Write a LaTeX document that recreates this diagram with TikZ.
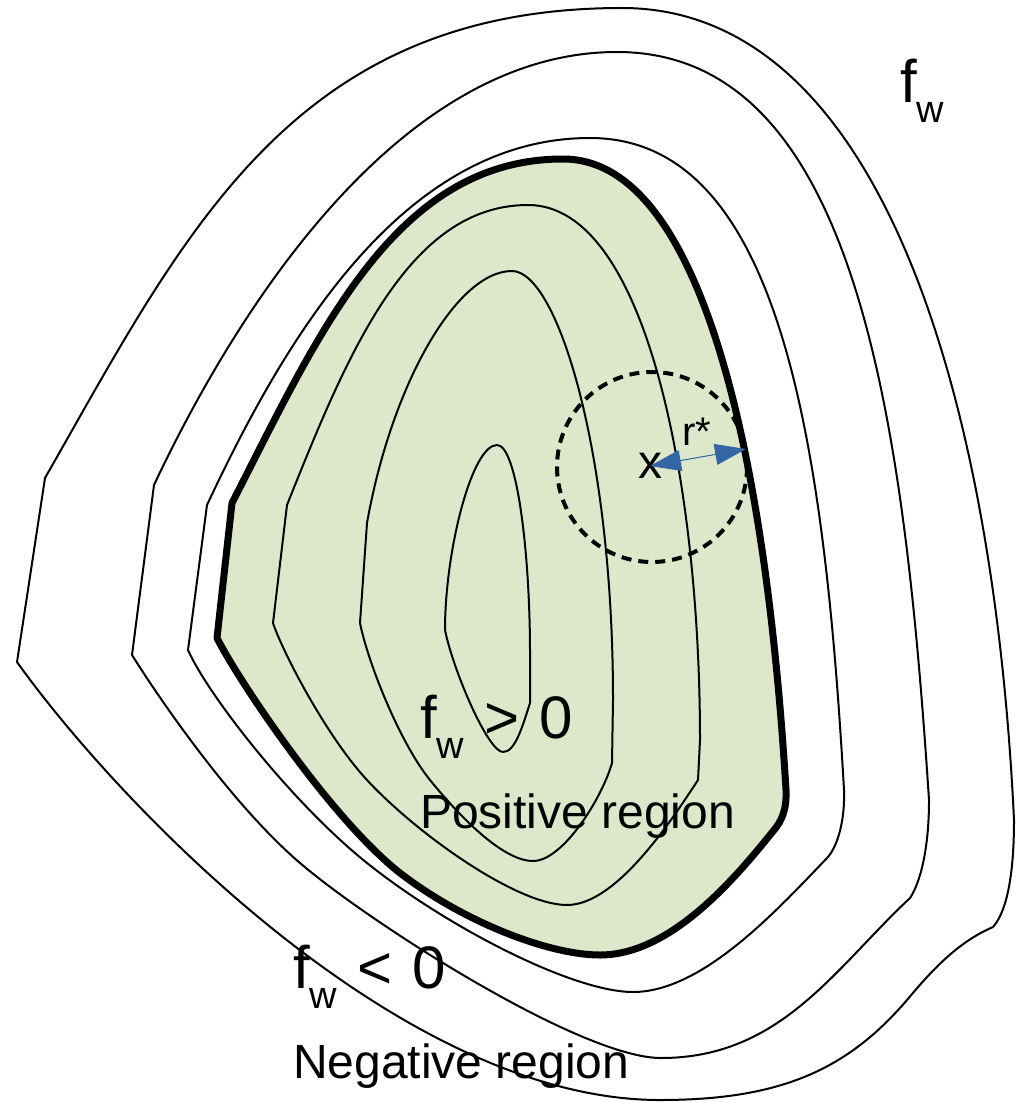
\documentclass[tikz,border=0pt]{standalone}
\usepackage{fontspec}
\setmainfont{Liberation Sans}
\usetikzlibrary{arrows.meta}
\definecolor{LevelFill}{HTML}{DDE8CB}
\definecolor{LevelArrow}{HTML}{3465A4}
\newcommand{\fwlabel}{f\raisebox{-20pt}{\fontsize{38}{40}\selectfont w}}

\begin{document}
\begin{tikzpicture}[x=1pt,y=-1pt,
    contour/.style={line width=2pt,line join=round},
    boundary/.style={line width=7pt,line join=round},
    biglabel/.style={inner sep=0pt,anchor=base west,font=\fontsize{60}{72}\selectfont},
    textlabel/.style={inner sep=0pt,anchor=base west,font=\fontsize{48}{56}\selectfont}]
  \useasboundingbox (0,0) rectangle (1016,1102);

  % outer level sets
  \draw[contour] (17,662) -- (45,478)
    .. controls +(140,-245) and +(-330,0) .. (622,8)
    .. controls +(260,0) and +(-20,-420) .. (1014,820)
    .. controls +(0,50) and +(15,-17) .. (993,927)
    .. controls +(-35,15) and +(25,-30) .. (907,1000)
    .. controls +(-60,70) and +(120,0) .. (660,1100)
    .. controls +(-260,0) and +(100,140) .. (17,662) -- cycle;
  \draw[contour] (132,655) -- (154,485)
    .. controls +(80,-170) and +(-220,0) .. (617,52)
    .. controls +(240,0) and +(-25,-380) .. (929,800)
    .. controls +(0,50) and +(10,-15) .. (910,898)
    .. controls +(-75,70) and +(120,0) .. (661,1058)
    .. controls +(-80,0) and +(70,60) .. (300,863)
    .. controls +(-70,-60) and +(25,40) .. (132,655) -- cycle;
  \draw[contour] (188,650) -- (207,505)
    .. controls +(75,-160) and +(-190,0) .. (590,138)
    .. controls +(190,0) and +(-20,-350) .. (844,790)
    .. controls +(1,30) and +(10,-12) .. (828,857)
    .. controls +(-50,52) and +(70,0) .. (633,992)
    .. controls +(-60,0) and +(80,64) .. (367,863)
    .. controls +(-75,-60) and +(20,45) .. (188,650) -- cycle;

  % zero level set
  \draw[boundary,fill=LevelFill] (217,638) -- (232,503)
    .. controls +(85,-165) and +(-170,0) .. (563,159)
    .. controls +(140,0) and +(-20,-330) .. (786,790)
    .. controls +(1,20) and +(7,-8) .. (774,830)
    .. controls +(-40,50) and +(70,0) .. (600,955)
    .. controls +(-50,0) and +(65,50) .. (400,873)
    .. controls +(-70,-55) and +(20,40) .. (217,638) -- cycle;

  % inner level sets
  \draw[contour] (273,623) -- (287,505)
    .. controls +(60,-150) and +(-120,0) .. (528,205)
    .. controls +(120,0) and +(0,-250) .. (700,740)
    -- (698,780)
    .. controls +(-25,38) and +(50,0) .. (567,905)
    .. controls +(-50,0) and +(50,54) .. (367,780)
    .. controls +(-40,-43) and +(10,30) .. (273,623) -- cycle;
  \draw[contour] (360,623) -- (367,523)
    .. controls +(25,-140) and +(-55,0) .. (512,271)
    .. controls +(45,0) and +(0,-250) .. (613,700)
    -- (612,763)
    .. controls +(-10,35) and +(30,0) .. (533,861)
    .. controls +(-30,0) and +(30,37) .. (430,780)
    .. controls +(-30,-37) and +(8,40) .. (360,623) -- cycle;
  \draw[contour] (445,630)
    .. controls +(0,-80) and +(-25,0) .. (497,445)
    .. controls +(20,0) and +(0,-100) .. (530,653)
    -- (530,703)
    .. controls +(-8,25) and +(12,0) .. (503,752)
    .. controls +(-15,0) and +(8,40) .. (445,630) -- cycle;

  % robustness radius
  \draw[line width=4pt,dash pattern=on 10pt off 7pt] (652,467) circle[radius=95];
  \node[inner sep=0pt,font=\fontsize{48}{56}\selectfont] (xlbl) at (650,466) {x};
  \coordinate (rhit) at (746,449);
  \draw[LevelArrow,line width=1pt,{Triangle[length=31pt,width=21pt]}-{Triangle[length=31pt,width=21pt]}] (xlbl.center) -- (rhit);
  \node[inner sep=0pt,anchor=base west,font=\fontsize{40}{48}\selectfont] (rlbl) at (682,445) {r*};

  \node[biglabel] (fwtop) at (900,103) {\fwlabel};
  \node[biglabel] (fwpos) at (420,738) {\fwlabel\hspace{20pt}>\hspace{20pt}0};
  \node[textlabel] (poslbl) at (420,828) {Positive region};
  \node[biglabel] (fwneg) at (293,988) {\fwlabel\hspace{20pt}<\hspace{20pt}0};
  \node[textlabel] (neglbl) at (293,1078) {Negative region};
\end{tikzpicture}
\end{document}
